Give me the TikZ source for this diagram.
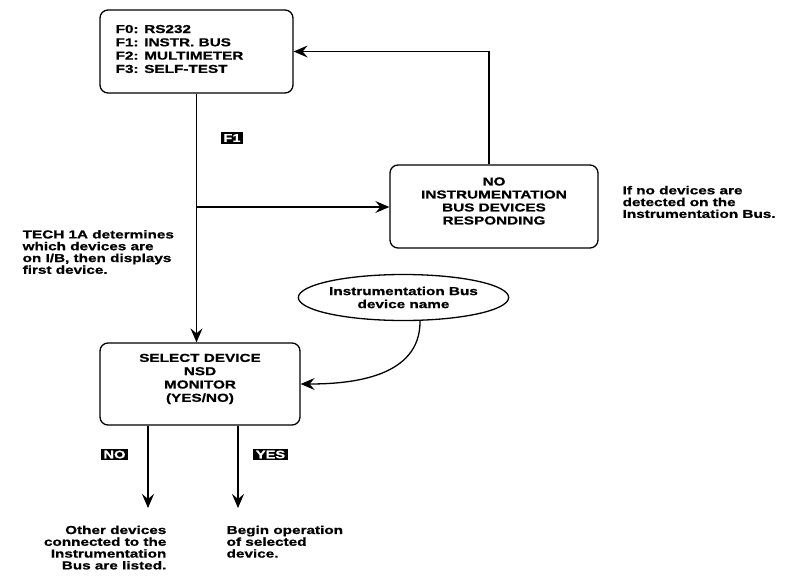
\documentclass[tikz,border=0pt]{standalone}
\usepackage{fontspec}
\setmainfont{Liberation Sans}[FakeStretch=1.33,BoldFeatures={FakeBold=0.8}]
\usetikzlibrary{arrows.meta,shapes.geometric}
\begin{document}
\begin{tikzpicture}[x=1pt,y=-1pt,
  line width=1.3pt,
  arr/.style={-{Stealth[length=14pt,width=12pt,inset=5pt]}},
  box/.style={draw,rounded corners=8pt,inner sep=0pt,
    font=\fontsize{11.5}{13}\selectfont\bfseries},
  txt/.style={inner sep=0pt,font=\fontsize{11.5}{11.8}\selectfont\bfseries},
  lab/.style={fill=black,text=white,inner xsep=2.5pt,inner ysep=2pt,
    font=\fontsize{11}{11}\selectfont\bfseries}]
\useasboundingbox[fill=white] (0,0) rectangle (788,584);

% boxes
\node[box,minimum width=193pt,minimum height=83pt,inner sep=0pt]
  (menu) at (196.5,51.5) {};
\node[inner sep=0pt,anchor=west,align=left,
  font=\fontsize{11.5}{13.3}\selectfont\bfseries]
  (menutxt) at (115,49) {F0: RS232\\F1: INSTR. BUS\\F2: MULTIMETER\\F3: SELF-TEST};
\node[box,minimum width=208pt,minimum height=83pt]
  (nobox) at (494,206.5) {};
\node[inner sep=0pt,align=center,font=\fontsize{11.5}{13}\selectfont\bfseries]
  (notxt) at (494,201) {NO\\INSTRUMENTATION\\BUS DEVICES\\RESPONDING};
\node[box,minimum width=200pt,minimum height=82pt]
  (select) at (200,384) {};
\node[inner sep=0pt,align=center,font=\fontsize{11.5}{13.3}\selectfont\bfseries]
  (seltxt) at (200,379) {SELECT DEVICE\\NSD\\MONITOR\\(YES/NO)};
\node[draw,ellipse,inner sep=0pt,minimum width=171pt,minimum height=46pt,
  align=center,font=\fontsize{11.5}{13}\selectfont\bfseries]
  (ell) at (403.5,297.5) {Instrumentation Bus\\device name};

% side texts
\node[txt,anchor=west,align=left] (note) at (622,202)
  {If no devices are\\detected on the\\Instrumentation Bus.};
\node[txt,anchor=west,align=left] (tech) at (22,252)
  {TECH 1A determines\\which devices are\\on I/B, then displays\\first device.};
\node[txt,anchor=north east,align=right] (other) at (167,525)
  {Other devices\\connected to the\\Instrumentation\\Bus are listed.};
\node[txt,anchor=north west,align=left] (begin) at (226,525)
  {Begin operation\\of selected\\device.};

% key labels
\node[lab] (kf1) at (232,138) {F1};
\node[lab] (kno) at (114.5,454.5) {NO};
\node[lab] (kyes) at (270.5,454.5) {YES};

% connectors
\coordinate (br) at (196.5,207);
\draw[arr] (menu.south) -- (menu.south |- select.north);
\draw[arr] (br) -- (br -| nobox.west);
\draw[arr] (nobox.north -| 489,0) |- (menu.east);
\coordinate (ellout) at (420,320.5);
\draw[arr] (ellout) .. controls (421,378) and (350,384) .. (select.east);
\coordinate (noend) at (148,508);
\coordinate (yesend) at (238,508);
\draw[arr] (select.south -| noend) -- (noend);
\draw[arr] (select.south -| yesend) -- (yesend);
\end{tikzpicture}
\end{document}
